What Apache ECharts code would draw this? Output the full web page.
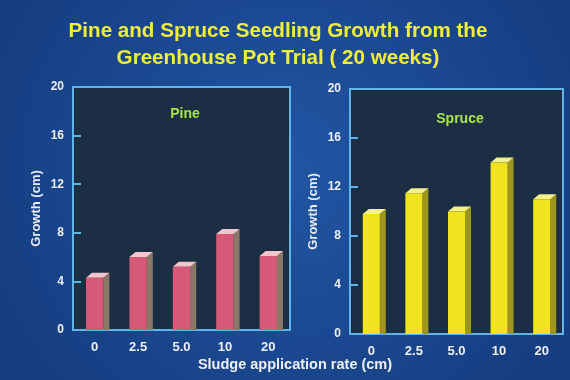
<!DOCTYPE html>
<html><head><meta charset="utf-8">
<script src="https://cdn.jsdelivr.net/npm/echarts@6/dist/echarts.min.js"></script>
<style>html,body{margin:0;padding:0;background:#1b4890}#c{width:570px;height:380px}</style>
</head><body><div id="c"></div>
<script>
var categories = ['0', '2.5', '5.0', '10', '20'];
var pineGrowth = [4.3, 6.0, 5.2, 7.9, 6.1];
var spruceGrowth = [9.8, 11.5, 10.0, 14.0, 11.0];
var yMin = 0, yMax = 20, yStep = 4;
var titleText = 'Pine and Spruce Seedling Growth from the\nGreenhouse Pot Trial ( 20 weeks)';
var xName = 'Sludge application rate (cm)';
var yName = 'Growth (cm)';

var FONT = '"Liberation Sans", Arial, sans-serif';

function render3D(front, top, side) {
  return function (params, api) {
    var x = api.value(0), v = api.value(1);
    var p = api.coord([x, v]);
    var b = api.coord([x, 0]);
    var bw = api.size([1, 0])[0] * 0.4;
    var x0 = p[0] - bw / 2, x1 = p[0] + bw / 2, dx = 6, dy = 5;
    return {
      type: 'group',
      children: [
        { type: 'polygon', shape: { points: [[x1, p[1]], [x1 + dx, p[1] - dy], [x1 + dx, b[1]], [x1, b[1]]] }, style: { fill: side } },
        { type: 'polygon', shape: { points: [[x0, p[1]], [x0 + dx, p[1] - dy], [x1 + dx, p[1] - dy], [x1, p[1]]] }, style: { fill: top } },
        { type: 'rect', shape: { x: x0, y: p[1], width: bw, height: b[1] - p[1] }, style: { fill: front } }
      ]
    };
  };
}

function yAxis(idx) {
  return {
    type: 'value', gridIndex: idx, min: yMin, max: yMax, interval: yStep,
    name: yName, nameLocation: 'middle', nameGap: 30,
    nameTextStyle: { color: '#e8ecf4', fontSize: 13, fontWeight: 'bold', fontFamily: FONT },
    axisLine: { show: false },
    axisTick: { show: true, inside: true, length: 8, lineStyle: { color: '#5fb4ea', width: 2 } },
    axisLabel: { color: '#eef0f6', fontSize: 12, fontWeight: 'bold', fontFamily: FONT, margin: 9 },
    splitLine: { show: false }
  };
}
function xAxis(idx) {
  return {
    type: 'category', gridIndex: idx, data: categories,
    axisLine: { show: false }, axisTick: { show: false },
    axisLabel: { color: '#eef0f6', fontSize: 13, fontWeight: 'bold', fontFamily: FONT, margin: 11 }
  };
}

var chart = echarts.init(document.getElementById('c'));
chart.setOption({
  backgroundColor: {
    type: 'radial', x: 0.5, y: 0.45, r: 0.8,
    colorStops: [{ offset: 0, color: '#2156a4' }, { offset: 1, color: '#163e82' }]
  },
  title: [
    { text: titleText, left: 273, top: 13, textAlign: 'center',
      textStyle: { color: '#f0ee3a', fontSize: 20.6, fontWeight: 'bold', fontFamily: FONT, lineHeight: 27 } },
    { text: 'Pine', left: 180, top: 102, textAlign: 'center',
      textStyle: { color: '#a6e44a', fontSize: 14, fontWeight: 'bold', fontFamily: FONT } },
    { text: 'Spruce', left: 455, top: 107, textAlign: 'center',
      textStyle: { color: '#a6e44a', fontSize: 14, fontWeight: 'bold', fontFamily: FONT } },
    { text: xName, left: 290, top: 352, textAlign: 'center',
      textStyle: { color: '#eef0f6', fontSize: 14.5, fontWeight: 'bold', fontFamily: FONT } }
  ],
  grid: [
    { left: 73, top: 87, width: 217, height: 243, show: true, backgroundColor: '#1c2e44', borderColor: '#5fb4ea', borderWidth: 2 },
    { left: 350, top: 89, width: 213, height: 245, show: true, backgroundColor: '#1c2e44', borderColor: '#5fb4ea', borderWidth: 2 }
  ],
  xAxis: [xAxis(0), xAxis(1)],
  yAxis: [yAxis(0), yAxis(1)],
  series: [
    { type: 'custom', name: 'Pine', xAxisIndex: 0, yAxisIndex: 0,
      renderItem: render3D('#d65a78', '#f3c6cc', '#8a7866'),
      encode: { x: 0, y: 1 },
      data: pineGrowth.map(function (v, i) { return [i, v]; }) },
    { type: 'custom', name: 'Spruce', xAxisIndex: 1, yAxisIndex: 1,
      renderItem: render3D('#f0e41e', '#f4f08a', '#9c961e'),
      encode: { x: 0, y: 1 },
      data: spruceGrowth.map(function (v, i) { return [i, v]; }) }
  ]
});
</script></body></html>
